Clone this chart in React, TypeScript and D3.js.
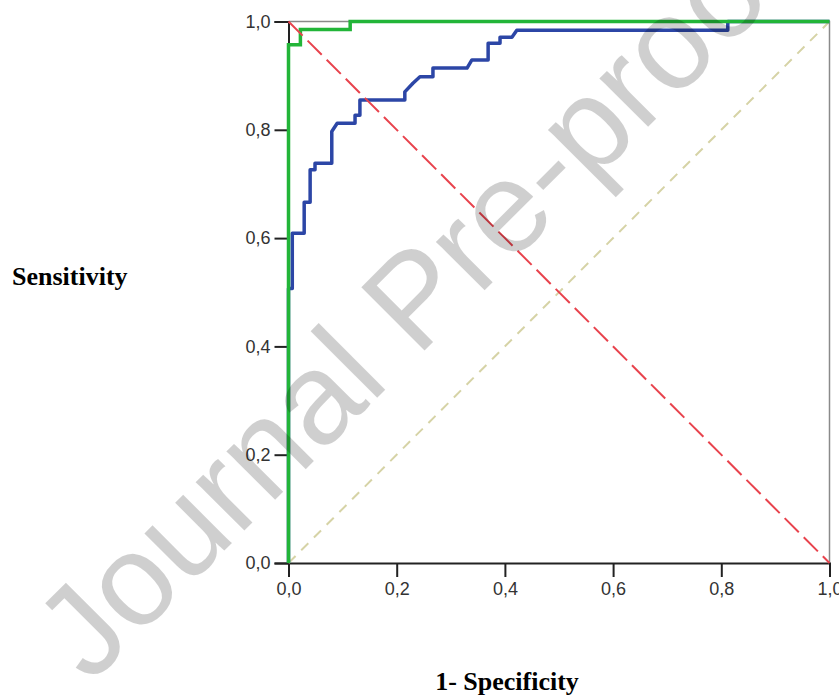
import React, { useEffect, useRef } from "react";
import * as d3 from "d3";

const xTicks = [0, 0.2, 0.4, 0.6, 0.8, 1.0];
const yTicks = [0, 0.2, 0.4, 0.6, 0.8, 1.0];

const blueFpr = [0, 0, 0.007, 0.007, 0.029, 0.029, 0.040, 0.040, 0.049, 0.049, 0.080, 0.080, 0.090, 0.123, 0.123, 0.132, 0.132, 0.215, 0.215, 0.230, 0.243, 0.267, 0.267, 0.330, 0.339, 0.369, 0.369, 0.391, 0.391, 0.413, 0.422, 0.812, 0.812, 1.0];
const blueTpr = [0, 0.507, 0.507, 0.609, 0.609, 0.666, 0.666, 0.726, 0.726, 0.738, 0.738, 0.797, 0.812, 0.812, 0.827, 0.827, 0.855, 0.855, 0.870, 0.886, 0.898, 0.898, 0.914, 0.914, 0.929, 0.929, 0.960, 0.960, 0.971, 0.971, 0.984, 0.984, 1.0, 1.0];

const greenFpr = [0, 0, 0.022, 0.022, 0.114, 0.114, 1.0];
const greenTpr = [0, 0.957, 0.957, 0.985, 0.985, 1.0, 1.0];

const refFpr = [0, 1];
const refTpr = [0, 1];
const redFpr = [0, 1];
const redTpr = [1, 0];

const xLabel = "1- Specificity";
const yLabel = "Sensitivity";
const watermark = "Journal Pre-proof";

export default function App() {
  const ref = useRef<SVGSVGElement>(null);
  useEffect(() => {
    const svg = d3.select(ref.current);
    svg.selectAll("*").remove();
    const x = d3.scaleLinear().domain([0, 1]).range([288.5, 829.5]);
    const y = d3.scaleLinear().domain([0, 1]).range([563, 21.5]);
    const fmt = (v: number) => d3.format(".1f")(v).replace(".", ",");

    // frame (top, right)
    svg.append("path")
      .attr("d", `M${x(0)},${y(1)}H${x(1)}V${y(0)}`)
      .attr("fill", "none").attr("stroke", "#8a8a8a").attr("stroke-width", 1.5);

    const line = d3.line<[number, number]>().x(d => x(d[0])).y(d => y(d[1]));
    const pts = (a: number[], b: number[]) => a.map((v, i) => [v, b[i]] as [number, number]);

    // axes
    const gx = svg.append("g").attr("transform", `translate(0,${y(0)})`)
      .call(d3.axisBottom(x).tickValues(xTicks).tickFormat(fmt as any).tickSize(14).tickPadding(5));
    const gy = svg.append("g").attr("transform", `translate(${x(0)},0)`)
      .call(d3.axisLeft(y).tickValues(yTicks).tickFormat(fmt as any).tickSize(14).tickPadding(4));
    [gx, gy].forEach(g => {
      g.select(".domain").attr("stroke", "#222").attr("stroke-width", 2);
      g.selectAll(".tick line").attr("stroke", "#222").attr("stroke-width", 2);
      g.selectAll(".tick text").attr("font-family", "Liberation Sans, Arial, sans-serif")
        .attr("font-size", 18).attr("fill", "#333");
    });

    // reference diagonal
    svg.append("path").attr("d", line(pts(refFpr, refTpr)))
      .attr("fill", "none").attr("stroke", "#d6d3a6").attr("stroke-width", 2)
      .attr("stroke-dasharray", "10,8");

    svg.append("path").attr("d", line(pts(blueFpr, blueTpr)))
      .attr("fill", "none").attr("stroke", "#2c46a6").attr("stroke-width", 3.5)
      .attr("stroke-linejoin", "round");
    svg.append("path").attr("d", line(pts(greenFpr, greenTpr)))
      .attr("fill", "none").attr("stroke", "#22b538").attr("stroke-width", 3.5);

    svg.append("path").attr("d", line(pts(redFpr, redTpr)))
      .attr("fill", "none").attr("stroke", "#e8434d").attr("stroke-width", 2)
      .attr("stroke-dasharray", "20,7");

    // axis titles
    svg.append("text").attr("x", 12).attr("y", 285).text(yLabel)
      .attr("font-family", "Liberation Serif, Times New Roman, serif")
      .attr("font-weight", "bold").attr("font-size", 26).attr("fill", "#000");
    svg.append("text").attr("x", 507).attr("y", 690).attr("text-anchor", "middle").text(xLabel)
      .attr("font-family", "Liberation Serif, Times New Roman, serif")
      .attr("font-weight", "bold").attr("font-size", 26).attr("fill", "#000");

    // watermark
    svg.append("text").attr("transform", "translate(445,330) rotate(-45)")
      .attr("text-anchor", "middle").text(watermark)
      .attr("font-family", "Liberation Sans, Arial, sans-serif")
      .attr("font-size", 130).attr("fill", "#000").attr("fill-opacity", 0.19);
  }, []);
  return (
    <svg ref={ref} width={839} height={695}
      style={{ position: "absolute", left: 0, top: 0, background: "#fff" }} />
  );
}
